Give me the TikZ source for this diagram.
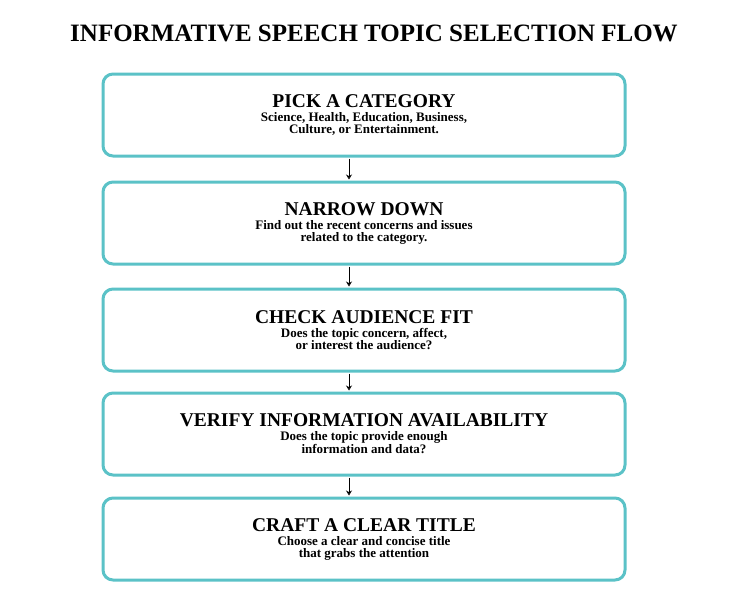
\documentclass[tikz,border=0pt]{standalone}
\usepackage{fontspec}
\setmainfont{Liberation Serif}
\usetikzlibrary{arrows.meta}
\definecolor{boxteal}{HTML}{5BC2C7}
\tikzset{
  stepbox/.style={draw=boxteal, line width=3pt, rounded corners=10pt, fill=white,
    minimum width=522pt, minimum height=82pt, align=center, inner sep=0pt, font=\bfseries},
  flowarrow/.style={-{Stealth[open,length=5pt,width=6pt]}, line width=0.8pt, black}
}
\newcommand{\hd}{\fontsize{19.5}{24}\selectfont}
\newcommand{\bd}{\fontsize{13}{21}\selectfont}
\newcommand{\boxtext}[3]{\hd #1\\[2pt]\bd #2\\\bd #3}
\begin{document}
\begin{tikzpicture}[x=1pt,y=-1pt]
  \useasboundingbox (0,0) rectangle (750,600);
  %Title
  \node[font=\fontsize{25}{30}\selectfont\bfseries] (title) at (374,33) {INFORMATIVE SPEECH TOPIC SELECTION FLOW};

  %Steps
  \node[stepbox] (s1) at (364,115) {\boxtext{PICK A CATEGORY}{Science, Health, Education, Business,}{Culture, or Entertainment.}};
  \node[stepbox] (s2) at (364,223) {\boxtext{NARROW DOWN}{Find out the recent concerns and issues}{related to the category.}};
  \node[stepbox] (s3) at (364,330) {\boxtext{CHECK AUDIENCE FIT}{Does the topic concern, affect,}{or interest the audience?}};
  \node[stepbox] (s4) at (364,434) {\boxtext{VERIFY INFORMATION AVAILABILITY}{Does the topic provide enough}{information and data?}};
  \node[stepbox] (s5) at (364,539) {\boxtext{CRAFT A CLEAR TITLE}{Choose a clear and concise title}{that grabs the attention}};

  %Arrows
  \foreach \a/\b in {s1/s2,s2/s3,s3/s4,s4/s5}
    \draw[flowarrow] ([xshift=-15pt,yshift=-1pt]\a.south) -- ([xshift=-15pt,yshift=1pt]\b.north);
\end{tikzpicture}
\end{document}
